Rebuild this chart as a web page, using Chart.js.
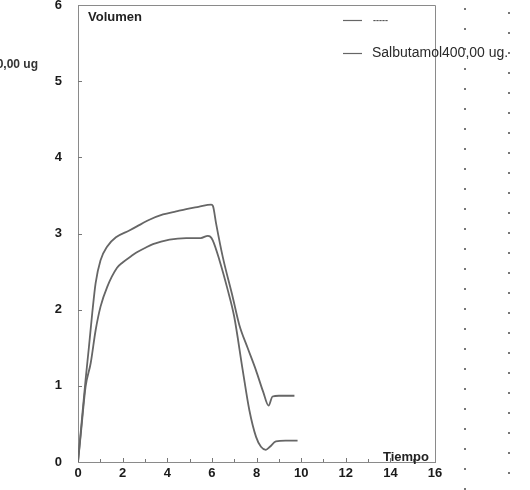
<!DOCTYPE html>
<html>
<head>
<meta charset="utf-8">
<script src="https://cdn.jsdelivr.net/npm/chart.js@4.4.1/dist/chart.umd.min.js"></script>
<style>
  html, body { margin: 0; padding: 0; background: #fff; }
  canvas { display: block; }
</style>
</head>
<body>
<canvas id="myChart" width="530" height="490"></canvas>
<script>
// curve 1 (higher plateau)
const tiempo1 = [0, 0.15, 0.34, 0.49, 0.64, 0.79, 1.01, 1.31, 1.7, 2.3, 2.62, 3.2, 3.81, 4.4, 4.85, 5.4, 5.97, 6.05, 6.19, 6.49, 6.93, 7.23, 7.6, 7.97, 8.3, 8.54, 8.72, 9.0, 9.7];
const volumen1 = [0, 0.48, 1.08, 1.51, 1.96, 2.35, 2.65, 2.83, 2.95, 3.04, 3.09, 3.18, 3.25, 3.29, 3.32, 3.35, 3.38, 3.36, 3.13, 2.69, 2.17, 1.8, 1.5, 1.21, 0.92, 0.74, 0.86, 0.87, 0.87];
// curve 2 (lower plateau)
const tiempo2 = [0, 0.15, 0.34, 0.57, 0.79, 1.01, 1.31, 1.75, 2.0, 2.42, 2.62, 3.0, 3.36, 4.1, 4.85, 5.5, 5.82, 5.92, 6.04, 6.34, 6.71, 7.0, 7.38, 7.68, 7.98, 8.2, 8.42, 8.6, 8.87, 9.3, 9.84];
const volumen2 = [0, 0.44, 0.99, 1.30, 1.73, 2.04, 2.30, 2.55, 2.62, 2.71, 2.75, 2.81, 2.86, 2.92, 2.94, 2.94, 2.97, 2.96, 2.91, 2.65, 2.26, 1.91, 1.21, 0.68, 0.33, 0.2, 0.16, 0.2, 0.27, 0.28, 0.28];
const xTicks = [0, 2, 4, 6, 8, 10, 12, 14, 16];
const yTicks = [0, 1, 2, 3, 4, 5, 6];
const legendLabels = ['-----', 'Salbutamol400,00 ug.'];

const lineColor = '#666666';
const axisColor = '#8a8a8a';
const fontFamily = '"Liberation Sans", Arial, sans-serif';

function toPoints(xs, ys) {
    return xs.map((x, i) => ({ x: x, y: ys[i] }));
}

const extras = {
    id: 'extras',
    afterDraw(chart) {
        const ctx = chart.ctx;
        const a = chart.chartArea;
        const sx = chart.scales.x;
        const sy = chart.scales.y;
        ctx.save();
        // top and right frame
        ctx.strokeStyle = axisColor;
        ctx.lineWidth = 1;
        ctx.beginPath();
        ctx.moveTo(a.left, a.top + 0.5);
        ctx.lineTo(a.right + 0.5, a.top + 0.5);
        ctx.lineTo(a.right + 0.5, a.bottom);
        ctx.stroke();
        // inner ticks
        ctx.strokeStyle = '#777';
        ctx.beginPath();
        for (let v = 1; v < 16; v++) {
            const px = Math.round(sx.getPixelForValue(v)) + 0.5;
            ctx.moveTo(px, a.bottom);
            ctx.lineTo(px, a.bottom - (v % 2 === 0 ? 4 : 3));
        }
        for (let v = 1; v < 6; v++) {
            const py = Math.round(sy.getPixelForValue(v)) + 0.5;
            ctx.moveTo(a.left, py);
            ctx.lineTo(a.left + 4, py);
        }
        ctx.stroke();
        // axis titles
        ctx.fillStyle = '#222';
        ctx.font = 'bold 13px ' + fontFamily;
        ctx.textBaseline = 'alphabetic';
        ctx.textAlign = 'left';
        ctx.fillText('Volumen', a.left + 10, a.top + 16);
        ctx.textAlign = 'right';
        ctx.fillText('Tiempo', a.right - 6, a.bottom - 1);
        // legend
        ctx.strokeStyle = lineColor;
        ctx.lineWidth = 1.2;
        const lx = a.left + 265;
        [20, 53].forEach((y, i) => {
            ctx.beginPath();
            ctx.moveTo(lx, y + 0.5);
            ctx.lineTo(lx + 19, y + 0.5);
            ctx.stroke();
            ctx.textAlign = 'left';
            ctx.textBaseline = 'middle';
            if (i === 0) {
                ctx.fillStyle = '#555';
                ctx.font = 'bold 9px ' + fontFamily;
                ctx.fillText(legendLabels[i], lx + 30, y + 1);
            } else {
                ctx.fillStyle = '#2a2a2a';
                ctx.font = '14px ' + fontFamily;
                ctx.fillText(legendLabels[i], lx + 29, y);
            }
        });
        // clipped label at the left edge
        ctx.fillStyle = '#333';
        ctx.font = 'bold 12px ' + fontFamily;
        ctx.textAlign = 'right';
        ctx.textBaseline = 'alphabetic';
        ctx.fillText('0,00 ug', 38, 68);
        // scanner dots on the right
        ctx.fillStyle = '#777';
        for (let y = 8; y < 490; y += 20) {
            ctx.fillRect(464, y, 2, 2);
            ctx.fillRect(508, y + 4, 2, 2);
        }
        ctx.restore();
    }
};

const ctx = document.getElementById('myChart').getContext('2d');
const myChart = new Chart(ctx, {
    type: 'line',
    data: {
        datasets: [{
            label: legendLabels[0],
            data: toPoints(tiempo1, volumen1),
            borderColor: lineColor,
            borderWidth: 1.8,
            pointRadius: 0,
            cubicInterpolationMode: 'monotone',
            fill: false
        }, {
            label: legendLabels[1],
            data: toPoints(tiempo2, volumen2),
            borderColor: lineColor,
            borderWidth: 1.8,
            pointRadius: 0,
            cubicInterpolationMode: 'monotone',
            fill: false
        }]
    },
    options: {
        responsive: false,
        animation: false,
        devicePixelRatio: 1,
        layout: { padding: { top: 5, right: 95, left: 0, bottom: 0 } },
        plugins: {
            legend: { display: false },
            tooltip: { enabled: false }
        },
        scales: {
            x: {
                type: 'linear',
                min: 0,
                max: 16,
                afterBuildTicks(scale) {
                    scale.ticks = xTicks.map(v => ({ value: v }));
                },
                afterFit(scale) {
                    scale.height = 28;
                    scale.paddingLeft = 0;
                    scale.paddingRight = 0;
                },
                grid: { display: false, drawTicks: false, tickLength: 0 },
                border: { display: true, color: axisColor, width: 1 },
                ticks: {
                    color: '#1a1a1a',
                    padding: 4,
                    maxRotation: 0,
                    font: { family: fontFamily, size: 13, weight: 'bold' }
                }
            },
            y: {
                type: 'linear',
                min: 0,
                max: 6,
                afterBuildTicks(scale) {
                    scale.ticks = yTicks.map(v => ({ value: v }));
                },
                afterFit(scale) {
                    scale.width = 78;
                    scale.paddingTop = 0;
                    scale.paddingBottom = 0;
                },
                grid: { display: false, drawTicks: false, tickLength: 0 },
                border: { display: true, color: axisColor, width: 1 },
                ticks: {
                    color: '#1a1a1a',
                    padding: 16,
                    font: { family: fontFamily, size: 13, weight: 'bold' }
                }
            }
        }
    },
    plugins: [extras]
});
</script>
</body>
</html>
